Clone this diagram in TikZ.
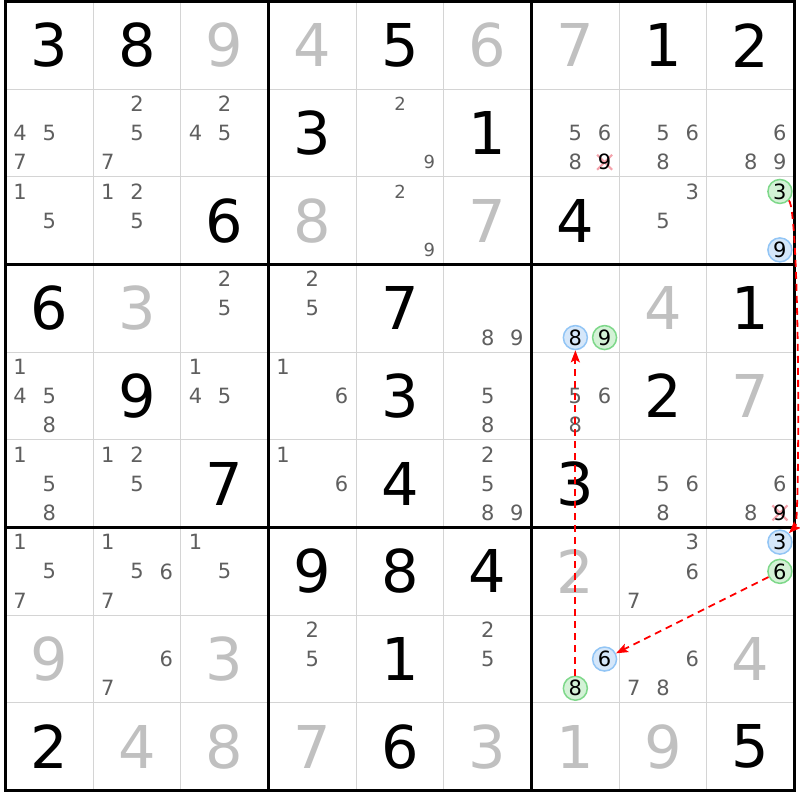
\documentclass[tikz,border=0pt]{standalone}
\usepackage{fontspec}
\setmainfont{DejaVu Sans}
\usetikzlibrary{arrows.meta}

\definecolor{solvedgray}{HTML}{C0C0C0}
\definecolor{candgray}{HTML}{5F5F5F}
\definecolor{linegray}{HTML}{D4D4D4}
\definecolor{bluefill}{HTML}{D5E7FA}
\definecolor{blueline}{HTML}{92C5F5}
\definecolor{greenfill}{HTML}{D3F2D6}
\definecolor{greenline}{HTML}{7ED88A}
\definecolor{crossred}{HTML}{F4A3AC}

\begin{document}
\begin{tikzpicture}[x=87.67pt, y=-87.67pt,
	given/.style={font=\fontsize{59}{59}\selectfont, text=black, inner sep=0pt},
	solved/.style={given, text=solvedgray},
	cand/.style={font=\fontsize{21}{21}\selectfont, text=candgray, inner sep=0pt},
	smallcand/.style={cand, font=\fontsize{18}{18}\selectfont},
	killed/.style={cand, text=black},
	bluemark/.style={circle, draw=blueline, fill=bluefill, line width=1.5pt,
		minimum size=24pt, inner sep=0pt, font=\fontsize{21}{21}\selectfont},
	greenmark/.style={bluemark, draw=greenline, fill=greenfill},
	link/.style={red, line width=1.8pt, dash pattern=on 7pt off 5pt,
		-{Stealth[length=12pt, width=9pt, inset=2.5pt]}}
]
	% Parameters
	\def\cross{7.5pt}

	% Page size (grid starts at top left)
	\useasboundingbox (-5.5pt,1.5pt) rectangle (794.5pt,-798.5pt);

	% Candidate slots: K<row><col><digit>
	\foreach \r in {0,...,8} {
		\foreach \c in {0,...,8} {
			\foreach \d in {1,...,9} {
				\pgfmathsetmacro\px{\c+(mod(\d-1,3)+0.5)/3}
				\pgfmathsetmacro\py{\r+(floor((\d-1)/3)+0.5)/3}
				\coordinate (K\r\c\d) at (\px,\py);
			}
		}
	}

	% Thin cell lines
	\foreach \i in {1,...,8} {
		\draw[linegray, line width=1.2pt] (\i,0) -- (\i,9);
		\draw[linegray, line width=1.2pt] (0,\i) -- (9,\i);
	}

	% Box lines
	\foreach \i in {3,6} {
		\draw[line width=3pt] (\i,0) -- (\i,9);
		\draw[line width=3pt] (0,\i) -- (9,\i);
	}
	\draw[line width=3pt] (0,0) rectangle (9,9);

	% Given digits
	\foreach \r/\c/\v in {0/0/3, 0/1/8, 0/4/5, 0/7/1, 0/8/2, 1/3/3, 1/5/1, 2/2/6,
		2/6/4, 3/0/6, 3/4/7, 3/8/1, 4/1/9, 4/4/3, 4/7/2, 5/2/7, 5/4/4, 5/6/3,
		6/3/9, 6/4/8, 6/5/4, 7/4/1, 8/0/2, 8/4/6, 8/8/5}
	\node[given] (V\r\c) at (\c+0.5,\r+0.5) {\v};

	% Solved digits
	\foreach \r/\c/\v in {0/2/9, 0/3/4, 0/5/6, 0/6/7, 2/3/8, 2/5/7, 3/1/3, 3/7/4,
		4/8/7, 6/6/2, 7/0/9, 7/2/3, 7/8/4, 8/1/4, 8/2/8, 8/3/7, 8/5/3, 8/6/1, 8/7/9}
	\node[solved] (V\r\c) at (\c+0.5,\r+0.5) {\v};

	% Pencil marks
	\foreach \r/\c/\ds in {1/0/{4,5,7}, 1/1/{2,5,7}, 1/2/{2,4,5}, 1/6/{5,6,8},
		1/7/{5,6,8}, 1/8/{6,8,9}, 2/0/{1,5}, 2/1/{1,2,5}, 2/7/{3,5},
		3/2/{2,5}, 3/3/{2,5}, 3/5/{8,9}, 4/0/{1,4,5,8}, 4/2/{1,4,5},
		4/3/{1,6}, 4/5/{5,8}, 4/6/{5,6,8}, 5/0/{1,5,8}, 5/1/{1,2,5},
		5/3/{1,6}, 5/5/{2,5,8,9}, 5/7/{5,6,8}, 5/8/{6,8}, 6/0/{1,5,7},
		6/1/{1,5,6,7}, 6/2/{1,5}, 6/7/{3,6,7}, 7/1/{6,7}, 7/3/{2,5},
		7/5/{2,5}, 7/7/{6,7,8}} {
		\foreach \d in \ds
		\node[cand] at (K\r\c\d) {\d};
	}
	\foreach \r/\c/\ds in {1/4/{2,9}, 2/4/{2,9}} {
		\foreach \d in \ds
		\node[smallcand] at (K\r\c\d) {\d};
	}

	% Eliminated candidates
	\foreach \k in {K169, K589} {
		\draw[crossred, line width=2.2pt] (\k) +(-\cross,-\cross) -- +(\cross,\cross)
			(\k) +(-\cross,\cross) -- +(\cross,-\cross);
		\node[killed] at (\k) {9};
	}

	% Chain marks
	\node[greenmark] (g3) at (K283) {3};
	\node[bluemark] (b9) at (K289) {9};
	\node[bluemark] (b8) at (K368) {8};
	\node[greenmark] (g9) at (K369) {9};
	\node[bluemark] (b3) at (K683) {3};
	\node[greenmark] (g6) at (K686) {6};
	\node[bluemark] (b6) at (K766) {6};
	\node[greenmark] (g8) at (K768) {8};

	% Links
	\draw[link] (g3) to[out=-45, in=45, looseness=0.12] (b3);
	\draw[link] (g6) -- (b6);
	\draw[link] (g8) -- (b8);

\end{tikzpicture}
\end{document}
